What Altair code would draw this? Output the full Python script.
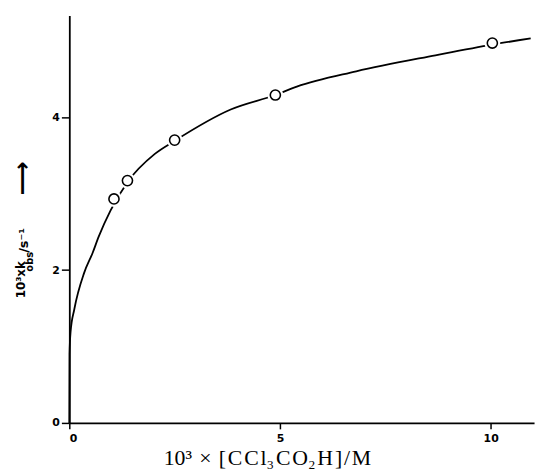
import altair as alt
import pandas as pd

# measured points
x_points = [1.06, 1.38, 2.50, 4.89, 10.04]
y_points = [2.93, 3.17, 3.70, 4.29, 4.97]

# fitted curve
curve_x = [0.0, 0.005, 0.03, 0.12, 0.35, 0.55, 0.70, 0.98, 1.38, 2.03, 2.50, 3.83, 4.89, 5.40, 6.81, 8.69, 10.04, 10.95]
curve_y = [0.0, 0.90, 1.19, 1.49, 1.96, 2.22, 2.44, 2.78, 3.15, 3.52, 3.69, 4.10, 4.29, 4.40, 4.60, 4.81, 4.95, 5.03]

x_ticks = [0, 5, 10]
y_ticks = [0, 2, 4]

# x title characters, set with hair spaces to mimic the wide typesetting
x_title_parts = ["10³", " ×", " [", "C", "C", "l₃", "C", "O₂", "H", "]", "/", "M"]
x_title = "\u200a".join(x_title_parts)

# y-title pieces (text, size, x-offset, y-offset in px relative to plot)
ytitle_text = ["10³xk", "obs", "/s⁻¹", "⟶"]
ytitle_size = [12, 10, 13, 24]
ytitle_x = [-49, -40, -46, -47]
ytitle_y = [286, 259, 240, 182]

W, H = 470, 412
xdom = [0, 11.03]
ydom = [0, 5.33]

pts = pd.DataFrame({"x": x_points, "y": y_points})
crv = pd.DataFrame({"x": curve_x, "y": curve_y})

xs = alt.Scale(domain=xdom, nice=False, zero=False)
ys = alt.Scale(domain=ydom, nice=False, zero=False)

xaxis = alt.Axis(values=x_ticks, format="d", title=x_title, titleFont="Liberation Serif",
                 titleFontSize=22, titleFontWeight="normal", titleAnchor="start",
                 titleX=95, titleY=35, titleBaseline="middle",
                 labelPadding=4, tickSize=6)
yaxis = alt.Axis(values=y_ticks, format="d", title=None, labelPadding=2, tickSize=8)

line = alt.Chart(crv).mark_line(color="black", strokeWidth=1.8, interpolate="monotone").encode(
    x=alt.X("x:Q", scale=xs, axis=xaxis),
    y=alt.Y("y:Q", scale=ys, axis=yaxis),
)

halo = alt.Chart(pts).mark_point(shape="circle", size=260, filled=True, fill="white",
                                 strokeWidth=0, opacity=1).encode(
    x=alt.X("x:Q", scale=xs),
    y=alt.Y("y:Q", scale=ys),
)

points = alt.Chart(pts).mark_point(shape="circle", size=105, filled=True, fill="white",
                                   stroke="black", strokeWidth=1.6, opacity=1).encode(
    x=alt.X("x:Q", scale=xs),
    y=alt.Y("y:Q", scale=ys),
)

layers = [line, halo, points]
for t, s, xo, yo in zip(ytitle_text, ytitle_size, ytitle_x, ytitle_y):
    layers.append(
        alt.Chart(pd.DataFrame({"t": [t]})).mark_text(
            angle=270, align="left", baseline="middle", fontSize=s,
            font="DejaVu Sans", fontWeight="bold", color="black", clip=False
        ).encode(text="t:N", x=alt.value(xo), y=alt.value(yo))
    )

chart = alt.layer(*layers).properties(
    width=W, height=H,
    autosize=alt.AutoSizeParams(type="none"),
    padding={"left": 62, "top": 5, "right": 5, "bottom": 45},
).configure_view(stroke=None).configure_axis(
    grid=False, domainColor="black", domainWidth=1.8, tickColor="black", tickWidth=1.5,
    labelFont="DejaVu Sans", labelFontWeight="bold", labelFontSize=11, labelColor="black",
    titleColor="black",
)

chart.save("out.html", embed_options={"renderer": "svg", "actions": False})
